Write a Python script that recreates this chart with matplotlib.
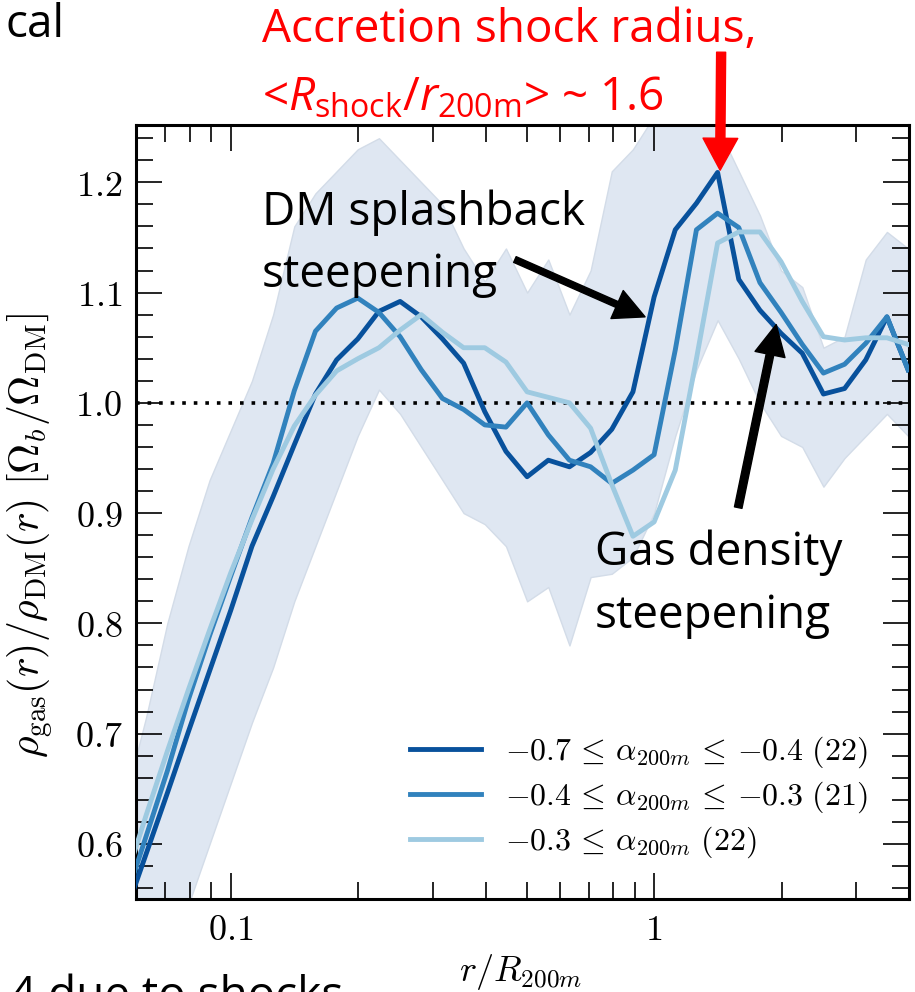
import matplotlib
matplotlib.use("Agg")
import matplotlib.pyplot as plt
import numpy as np
from matplotlib.ticker import FixedLocator, FuncFormatter, LogLocator, MultipleLocator, NullFormatter

plt.rcParams["mathtext.fontset"] = "cm"
plt.rcParams["mathtext.rm"] = "Open Sans"
plt.rcParams["mathtext.it"] = "Open Sans:italic"
plt.rcParams["font.family"] = ["Open Sans", "DejaVu Sans"]

# radial bins, log10(r / R200m), step 0.05
log_r = np.round(np.arange(-1.25, 0.601, 0.05), 2)
r = 10 ** log_r

# gas-to-DM density ratio for three accretion-rate bins
ratio_fast = [0.536, 0.591, 0.646, 0.702, 0.757, 0.812, 0.870, 0.915, 0.962, 1.008,
              1.039, 1.058, 1.083, 1.092, 1.078, 1.058, 1.036, 0.992, 0.956, 0.933,
              0.948, 0.942, 0.955, 0.976, 1.010, 1.096, 1.157, 1.181, 1.209, 1.112,
              1.084, 1.063, 1.045, 1.008, 1.013, 1.039, 1.078, 1.030]
ratio_mid = [0.548, 0.607, 0.666, 0.731, 0.789, 0.843, 0.896, 0.945, 1.011, 1.065,
             1.086, 1.095, 1.082, 1.060, 1.030, 1.004, 0.994, 0.980, 0.978, 1.000,
             0.971, 0.948, 0.942, 0.927, 0.939, 0.953, 1.048, 1.157, 1.172, 1.159,
             1.109, 1.082, 1.053, 1.027, 1.035, 1.054, 1.078, 1.030]
ratio_slow = [0.566, 0.626, 0.684, 0.740, 0.794, 0.846, 0.894, 0.940, 0.979, 1.007,
              1.029, 1.040, 1.050, 1.066, 1.080, 1.064, 1.050, 1.050, 1.037, 1.010,
              1.005, 1.000, 0.977, 0.926, 0.879, 0.892, 0.939, 1.040, 1.145, 1.155,
              1.155, 1.128, 1.092, 1.060, 1.057, 1.059, 1.059, 1.053]

# scatter envelope over all haloes
band_hi = [0.64, 0.715, 0.80, 0.87, 0.93, 0.975, 1.02, 1.08, 1.16, 1.19,
           1.21, 1.23, 1.24, 1.22, 1.20, 1.18, 1.14, 1.11, 1.14, 1.10,
           1.13, 1.08, 1.12, 1.21, 1.23, 1.26, 1.26, 1.26, 1.25, 1.21,
           1.17, 1.12, 1.105, 1.05, 1.06, 1.13, 1.155, 1.14]
band_lo = [0.45, 0.49, 0.52, 0.545, 0.60, 0.655, 0.71, 0.76, 0.82, 0.87,
           0.92, 0.97, 1.012, 0.99, 0.96, 0.93, 0.90, 0.89, 0.87, 0.82,
           0.833, 0.78, 0.842, 0.845, 0.86, 0.90, 0.97, 1.03, 1.075, 1.04,
           1.00, 0.97, 0.96, 0.924, 0.95, 0.97, 0.99, 0.97]

labels = [r"$-0.7 \,\leq\, \alpha_{200m} \,\leq\, {-}0.4\ (22)$",
          r"$-0.4 \,\leq\, \alpha_{200m} \,\leq\, {-}0.3\ (21)$",
          r"$-0.3 \,\leq\, \alpha_{200m}\ (22)$"]
colors = ["#08519c", "#3182bd", "#9ecae1"]

fig = plt.figure(figsize=(9.15, 9.92), dpi=100)
ax = fig.add_axes([0.1486, 0.0937, 0.8448, 0.7803])

ax.fill_between(r, band_lo, band_hi, facecolor="#dfe7f2", edgecolor="#d3dce8", lw=1, zorder=1)
ax.axhline(1.0, color="k", ls=(0, (1, 2.2)), lw=2.6, zorder=2)
for y, c, lab in zip([ratio_fast, ratio_mid, ratio_slow], colors, labels):
    ax.plot(r, y, color=c, lw=3.5, label=lab, zorder=3)

ax.set_xscale("log")
ax.set_xlim(0.0597, 4.0)
ax.set_ylim(0.55, 1.252)

ax.xaxis.set_major_locator(FixedLocator([0.1, 1]))
ax.xaxis.set_major_formatter(FuncFormatter(lambda v, p: "$0.1$" if v < 0.5 else "$1$"))
ax.xaxis.set_minor_locator(LogLocator(base=10, subs=np.arange(2, 10)))
ax.xaxis.set_minor_formatter(NullFormatter())
ax.yaxis.set_major_locator(MultipleLocator(0.1))
ax.yaxis.set_minor_locator(MultipleLocator(0.02))
ax.yaxis.set_major_formatter(FuncFormatter(lambda v, p: f"${v:.1f}$"))

ax.tick_params(which="both", direction="in", top=True, right=True, labelsize=26, width=1.2)
ax.tick_params(which="major", length=19, pad=10)
ax.tick_params(which="minor", length=12)
for s in ax.spines.values():
    s.set_linewidth(2.2)

ax.set_xlabel(r"$r/R_{200m}$", fontsize=26)
ax.xaxis.set_label_coords(0.497, -0.068)
ax.set_ylabel(r"$\rho_{\rm gas}(r)/\rho_{\rm DM}(r)\ [\Omega_b/\Omega_{\rm DM}]$", fontsize=30)
ax.yaxis.set_label_coords(-0.105, 0.47)

ax.legend(loc="lower right", bbox_to_anchor=(0.946, 0.05), frameon=False, fontsize=23,
          handlelength=2.2, handletextpad=0.75, labelspacing=0.3, borderpad=0, borderaxespad=0)

# annotations
ax.annotate("", xy=(1.432, 1.211), xytext=(1.44, 1.318), annotation_clip=False,
            arrowprops=dict(facecolor="red", edgecolor="red", width=6.5, headwidth=25, headlength=23))
ax.annotate("", xy=(0.952, 1.078), xytext=(0.469, 1.130),
            arrowprops=dict(facecolor="k", edgecolor="k", width=4.5, headwidth=22, headlength=22))
ax.annotate("", xy=(1.943, 1.071), xytext=(1.58, 0.905),
            arrowprops=dict(facecolor="k", edgecolor="k", width=5.5, headwidth=22, headlength=22))

big = 33
fig.text(262 / 915, 1 - 42 / 992, "Accretion shock radius,", color="red", fontsize=big, va="baseline")
fig.text(262 / 915, 1 - 110 / 992,
         r"<$\mathit{R}_{\mathrm{shock}}$/$\mathit{r}_{\mathrm{200m}}$> ~ 1.6",
         color="red", fontsize=big, va="baseline", math_fontfamily="custom")
fig.text(262 / 915, 1 - 225 / 992, "DM splashback", fontsize=big, va="baseline")
fig.text(262 / 915, 1 - 287 / 992, "steepening", fontsize=big, va="baseline")
fig.text(595 / 915, 1 - 565 / 992, "Gas density", fontsize=big, va="baseline")
fig.text(595 / 915, 1 - 628 / 992, "steepening", fontsize=big, va="baseline")
fig.text(6 / 915, 1 - 37 / 992, "cal", fontsize=big, va="baseline")
fig.text(10 / 915, 1 - 1009 / 992, "4 due to shocks", fontsize=big, va="baseline")

fig.savefig("out.png", dpi=100)
